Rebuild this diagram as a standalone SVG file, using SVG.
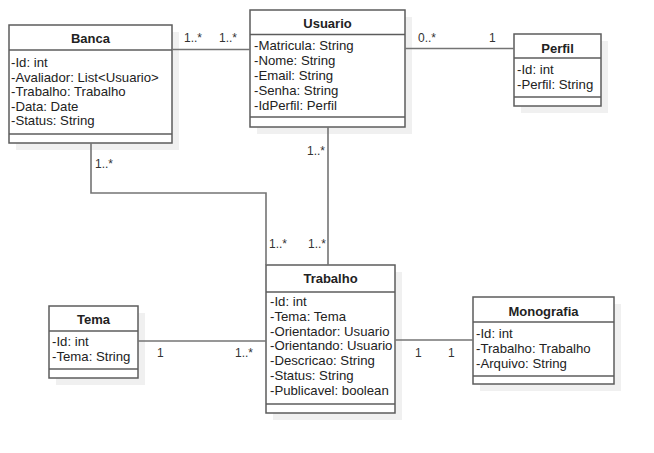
<svg xmlns="http://www.w3.org/2000/svg" width="654" height="453" viewBox="0 0 654 453">
<style>
.shadow{fill:#f0f0f0;stroke:none}
.box{fill:#ffffff;stroke:#5c5c5c;stroke-width:1.5}
.sep{stroke:#5c5c5c;stroke-width:1.5}
.title{font-family:"Liberation Sans",Arial,sans-serif;font-size:13px;font-weight:bold;fill:#222;text-anchor:middle}
.attr{font-family:"Liberation Sans",Arial,sans-serif;font-size:13.2px;fill:#222}
.conn{fill:none;stroke:#747474;stroke-width:1.6}
.mult{font-family:"Liberation Sans",Arial,sans-serif;font-size:12px;fill:#333}
</style>
<rect width="654" height="453" fill="#ffffff"/>
<g id="banca">
<rect class="shadow" x="16" y="32" width="163" height="118"/>
<rect class="box" x="9" y="25" width="163" height="118"/>
<line class="sep" x1="9" y1="50" x2="172" y2="50"/>
<line class="sep" x1="9" y1="134" x2="172" y2="134"/>
<text class="title" x="90.5" y="43">Banca</text>
<text class="attr" x="11" y="67">-Id: int</text>
<text class="attr" x="11" y="81.6">-Avaliador: List&lt;Usuario&gt;</text>
<text class="attr" x="11" y="96.2">-Trabalho: Trabalho</text>
<text class="attr" x="11" y="110.8">-Data: Date</text>
<text class="attr" x="11" y="125.4">-Status: String</text>
</g>
<g id="usuario">
<rect class="shadow" x="257" y="17" width="155" height="117"/>
<rect class="box" x="250" y="10" width="155" height="117"/>
<line class="sep" x1="250" y1="34.5" x2="405" y2="34.5"/>
<line class="sep" x1="250" y1="117" x2="405" y2="117"/>
<text class="title" x="327.5" y="28">Usuario</text>
<text class="attr" x="254" y="49.5">-Matricula: String</text>
<text class="attr" x="254" y="64.5">-Nome: String</text>
<text class="attr" x="254" y="79.5">-Email: String</text>
<text class="attr" x="254" y="94.5">-Senha: String</text>
<text class="attr" x="254" y="109.5">-IdPerfil: Perfil</text>
</g>
<g id="perfil">
<rect class="shadow" x="521" y="41" width="87" height="72"/>
<rect class="box" x="514" y="34" width="87" height="72"/>
<line class="sep" x1="514" y1="58" x2="601" y2="58"/>
<line class="sep" x1="514" y1="97" x2="601" y2="97"/>
<text class="title" x="557.5" y="52.5">Perfil</text>
<text class="attr" x="517" y="73.5">-Id: int</text>
<text class="attr" x="517" y="89">-Perfil: String</text>
</g>
<g id="tema">
<rect class="shadow" x="56" y="313" width="89" height="72"/>
<rect class="box" x="49" y="306" width="89" height="72"/>
<line class="sep" x1="49" y1="331" x2="138" y2="331"/>
<line class="sep" x1="49" y1="369" x2="138" y2="369"/>
<text class="title" x="93.5" y="323.5">Tema</text>
<text class="attr" x="52" y="346">-Id: int</text>
<text class="attr" x="52" y="361">-Tema: String</text>
</g>
<g id="trabalho">
<rect class="shadow" x="273" y="272" width="129" height="148"/>
<rect class="box" x="266" y="265" width="129" height="148"/>
<line class="sep" x1="266" y1="292" x2="395" y2="292"/>
<line class="sep" x1="266" y1="404" x2="395" y2="404"/>
<text class="title" x="330.5" y="283">Trabalho</text>
<text class="attr" x="270" y="306">-Id: int</text>
<text class="attr" x="270" y="320.8">-Tema: Tema</text>
<text class="attr" x="270" y="335.6">-Orientador: Usuario</text>
<text class="attr" x="270" y="350.4">-Orientando: Usuario</text>
<text class="attr" x="270" y="365.2">-Descricao: String</text>
<text class="attr" x="270" y="380">-Status: String</text>
<text class="attr" x="270" y="394.8">-Publicavel: boolean</text>
</g>
<g id="monografia">
<rect class="shadow" x="480" y="304" width="141" height="87"/>
<rect class="box" x="473" y="297" width="141" height="87"/>
<line class="sep" x1="473" y1="322" x2="614" y2="322"/>
<line class="sep" x1="473" y1="376" x2="614" y2="376"/>
<text class="title" x="543.5" y="315.5">Monografia</text>
<text class="attr" x="476" y="338">-Id: int</text>
<text class="attr" x="476" y="353">-Trabalho: Trabalho</text>
<text class="attr" x="476" y="368">-Arquivo: String</text>
</g>
<g id="connectors">
<path class="conn" d="M172,49.5 H250"/>
<path class="conn" d="M405,48.5 H514"/>
<path class="conn" d="M91,143 V193 H266 V265"/>
<path class="conn" d="M328,127 V265"/>
<path class="conn" d="M138,341 H266"/>
<path class="conn" d="M395,340 H473"/>
<text class="mult" x="184" y="42">1..*</text>
<text class="mult" x="219" y="42">1..*</text>
<text class="mult" x="418" y="42">0..*</text>
<text class="mult" x="489" y="42">1</text>
<text class="mult" x="95" y="168">1..*</text>
<text class="mult" x="307" y="155">1..*</text>
<text class="mult" x="269" y="248">1..*</text>
<text class="mult" x="308" y="248">1..*</text>
<text class="mult" x="157" y="357">1</text>
<text class="mult" x="235" y="357">1..*</text>
<text class="mult" x="415" y="357">1</text>
<text class="mult" x="448" y="357">1</text>
</g>
</svg>
